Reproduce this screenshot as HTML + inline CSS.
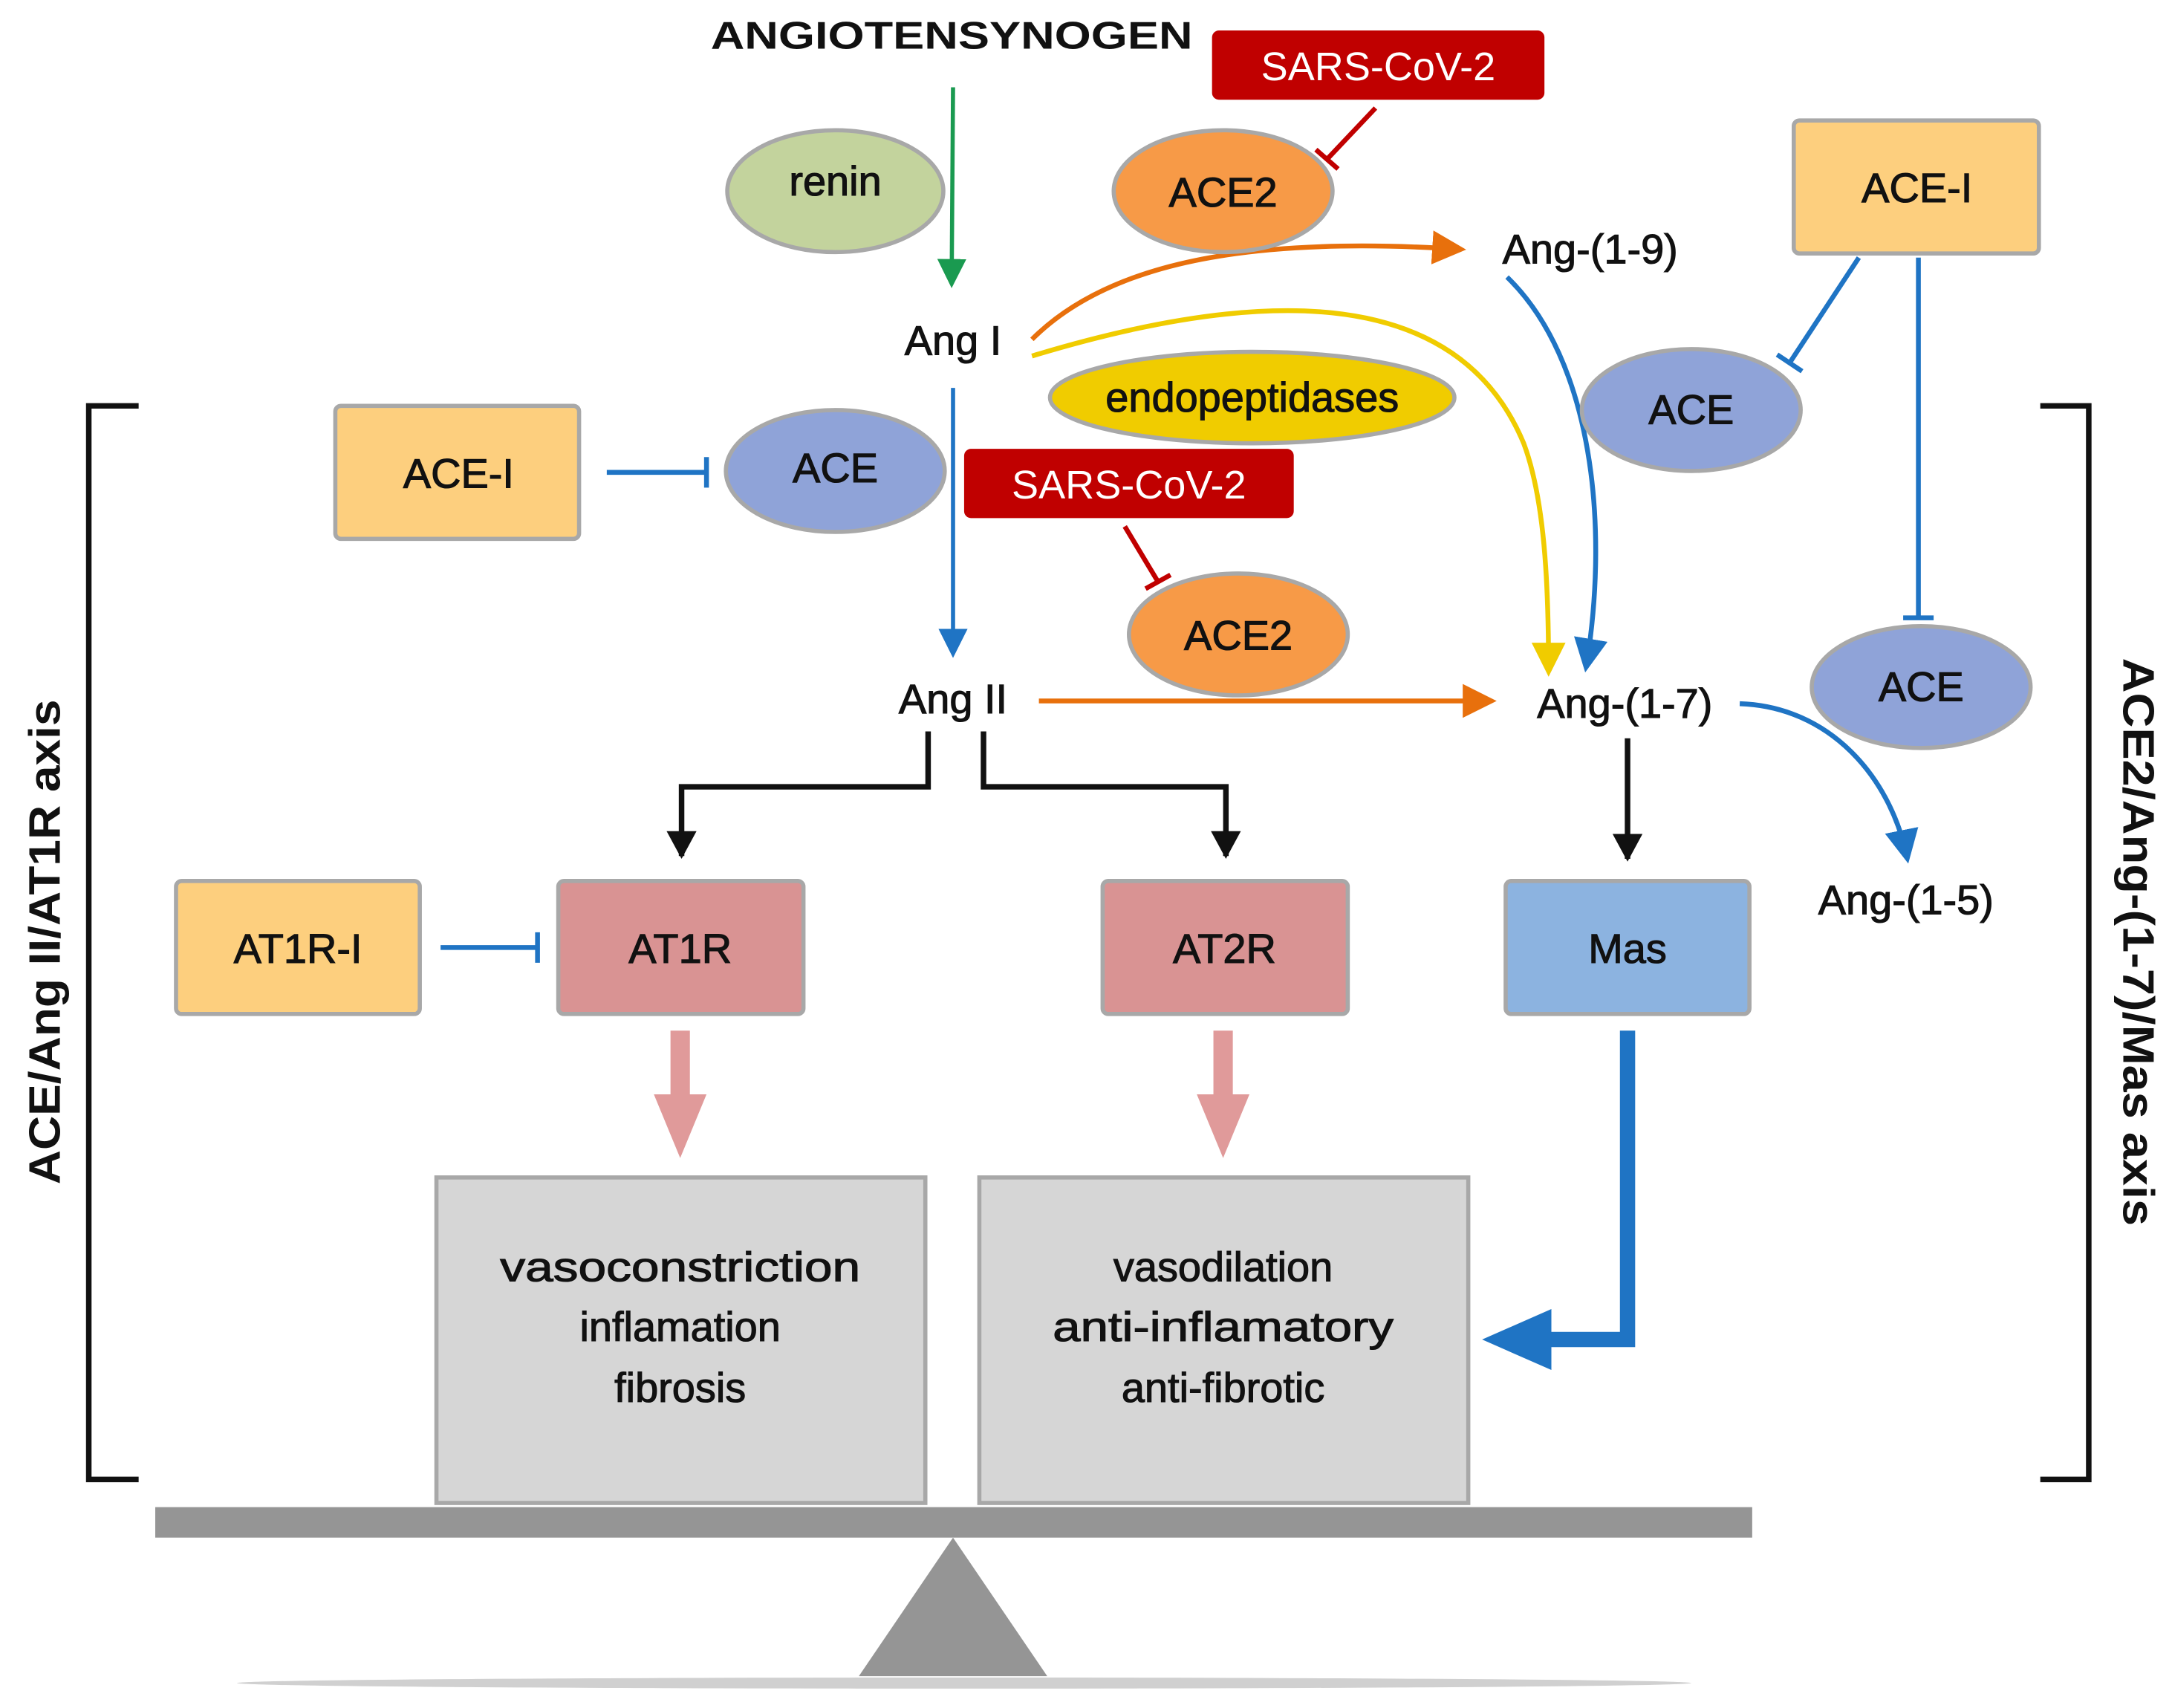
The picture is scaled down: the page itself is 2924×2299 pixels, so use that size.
<!DOCTYPE html>
<html><head><meta charset="utf-8"><style>html,body{margin:0;padding:0;background:#fff}svg{display:block}</style></head>
<body>
<svg width="2924" height="2299" viewBox="0 0 1568 1233" xmlns="http://www.w3.org/2000/svg" font-family="Liberation Sans, sans-serif">
<defs>
<marker id="ag" markerWidth="8" markerHeight="8" refX="6" refY="4" orient="auto" markerUnits="strokeWidth"><path d="M0,0.5 L7,4 L0,7.5z" fill="#1a9a50"/></marker>
<marker id="ab" markerWidth="8" markerHeight="8" refX="6" refY="4" orient="auto" markerUnits="strokeWidth"><path d="M0,0.5 L7,4 L0,7.5z" fill="#1f74c4"/></marker>
<marker id="ao" markerWidth="8" markerHeight="8" refX="6" refY="4" orient="auto" markerUnits="strokeWidth"><path d="M0,0.5 L7,4 L0,7.5z" fill="#e8700c"/></marker>
<marker id="ay" markerWidth="8" markerHeight="8" refX="6" refY="4" orient="auto" markerUnits="strokeWidth"><path d="M0,0.5 L7,4 L0,7.5z" fill="#f0cc00"/></marker>
<marker id="ak" markerWidth="6" markerHeight="6" refX="4.5" refY="3" orient="auto" markerUnits="strokeWidth"><path d="M0,0.3 L5,3 L0,5.7z" fill="#111"/></marker>
</defs>
<text x="513" y="35" font-size="28" font-weight="bold" fill="#111" textLength="348" lengthAdjust="spacingAndGlyphs">ANGIOTENSYNOGEN</text>
<!-- brackets -->
<path d="M100,293 H64 V1068 H100" fill="none" stroke="#111" stroke-width="4"/>
<path d="M1473,293 H1508 V1068 H1473" fill="none" stroke="#111" stroke-width="4"/>
<text transform="translate(43,680) rotate(-90)" font-size="32" font-weight="bold" text-anchor="middle" fill="#111" textLength="350" lengthAdjust="spacingAndGlyphs">ACE/Ang II/AT1R axis</text>
<text transform="translate(1533,680) rotate(90)" font-size="32" font-weight="bold" text-anchor="middle" fill="#111" textLength="410" lengthAdjust="spacingAndGlyphs">ACE2/Ang-(1-7)/Mas axis</text>

<!-- connectors -->
<line x1="688" y1="63" x2="687" y2="205" stroke="#1a9a50" stroke-width="3" marker-end="url(#ag)"/>
<line x1="688" y1="280" x2="688" y2="472" stroke="#1f74c4" stroke-width="3" marker-end="url(#ab)"/>
<path d="M745,245 C800,190 900,170 1055,180" fill="none" stroke="#e8700c" stroke-width="3.5" marker-end="url(#ao)"/>
<path d="M745,257 C900,210 1050,200 1100,320 C1115,360 1118,420 1118,485" fill="none" stroke="#f0cc00" stroke-width="3.5" marker-end="url(#ay)"/>
<path d="M1088,200 C1150,260 1162,380 1145,482" fill="none" stroke="#1f74c4" stroke-width="3.5" marker-end="url(#ab)"/>
<line x1="750" y1="506" x2="1077" y2="506" stroke="#e8700c" stroke-width="3.5" marker-end="url(#ao)"/>
<path d="M1256,508 C1320,510 1365,560 1377,620" fill="none" stroke="#1f74c4" stroke-width="3.5" marker-end="url(#ab)"/>
<line x1="1175" y1="533" x2="1175" y2="620" stroke="#111" stroke-width="4" marker-end="url(#ak)"/>
<path d="M670,528 V568 H492 V618" fill="none" stroke="#111" stroke-width="4" marker-end="url(#ak)"/>
<path d="M710,528 V568 H885 V618" fill="none" stroke="#111" stroke-width="4" marker-end="url(#ak)"/>
<!-- inhibitors -->
<path d="M438,341 H510 M510,330 V352" stroke="#1f74c4" stroke-width="3.5" fill="none"/>
<path d="M318,684 H388 M388,673 V695" stroke="#1f74c4" stroke-width="3.5" fill="none"/>
<path d="M1342,186 L1292,262 M1283,256 L1301,268" stroke="#1f74c4" stroke-width="3.5" fill="none"/>
<path d="M1385,186 V446 M1374,446 H1396" stroke="#1f74c4" stroke-width="3.5" fill="none"/>
<path d="M993,78 L958,115 M950,108 L966,122" stroke="#c00000" stroke-width="3.5" fill="none"/>
<path d="M812,380 L836,420 M827,425 L845,415" stroke="#c00000" stroke-width="3.5" fill="none"/>
<!-- pink arrows -->
<path d="M484,744 H498 V790 H510 L491,836 L472,790 H484z" fill="#e09a9a"/>
<path d="M876,744 H890 V790 H902 L883,836 L864,790 H876z" fill="#e09a9a"/>
<!-- big blue arrow -->
<path d="M1175,744 V967 H1110" fill="none" stroke="#1f74c4" stroke-width="11"/>
<path d="M1070,967 L1120,945 L1120,989z" fill="#1f74c4"/>

<!-- nodes -->
<g stroke="#a8a8a8" stroke-width="3">
<ellipse cx="603" cy="138" rx="78" ry="44" fill="#c3d39d"/>
<ellipse cx="883" cy="138" rx="79" ry="44" fill="#f79a47"/>
<ellipse cx="904" cy="287" rx="146" ry="33" fill="#f0cc00"/>
<ellipse cx="603" cy="340" rx="79" ry="44" fill="#8fa3d8"/>
<ellipse cx="894" cy="458" rx="79" ry="44" fill="#f79a47"/>
<ellipse cx="1221" cy="296" rx="79" ry="44" fill="#8fa3d8"/>
<ellipse cx="1387" cy="496" rx="79" ry="44" fill="#8fa3d8"/>
<rect x="242" y="293" width="176" height="96" rx="4" fill="#fdcf7e"/>
<rect x="1295" y="87" width="177" height="96" rx="4" fill="#fdcf7e"/>
<rect x="127" y="636" width="176" height="96" rx="4" fill="#fdcf7e"/>
<rect x="403" y="636" width="177" height="96" rx="4" fill="#d99393"/>
<rect x="796" y="636" width="177" height="96" rx="4" fill="#d99393"/>
<rect x="1087" y="636" width="176" height="96" rx="4" fill="#8cb3e0"/>
<rect x="315" y="850" width="353" height="235" fill="#d6d6d6"/>
<rect x="707" y="850" width="353" height="235" fill="#d6d6d6"/>
</g>
<rect x="875" y="22" width="240" height="50" rx="5" fill="#c00000"/>
<rect x="696" y="324" width="238" height="50" rx="5" fill="#c00000"/>
<text x="995" y="58" font-size="29" fill="#fff" text-anchor="middle">SARS-CoV-2</text>
<text x="815" y="360" font-size="29" fill="#fff" text-anchor="middle">SARS-CoV-2</text>

<!-- balance -->
<rect x="112" y="1088" width="1153" height="22" fill="#959595"/>
<path d="M688,1110 L756,1210 L620,1210z" fill="#959595"/>
<ellipse cx="696" cy="1215" rx="525" ry="4" fill="#d0d0d0"/>

<g font-size="30" fill="#111" stroke="#111" stroke-width="0.6" text-anchor="middle">
<text x="603" y="141">renin</text>
<text x="883" y="149">ACE2</text>
<text x="904" y="297">endopeptidases</text>
<text x="603" y="348">ACE</text>
<text x="894" y="469">ACE2</text>
<text x="1221" y="306">ACE</text>
<text x="1387" y="506">ACE</text>
<text x="331" y="352">ACE-I</text>
<text x="1384" y="146">ACE-I</text>
<text x="215" y="695">AT1R-I</text>
<text x="491" y="695">AT1R</text>
<text x="884" y="695">AT2R</text>
<text x="1175" y="695">Mas</text>
<text x="688" y="256">Ang I</text>
<text x="688" y="515">Ang II</text>
<text x="1148" y="190">Ang-(1-9)</text>
<text x="1173" y="518">Ang-(1-7)</text>
<text x="1376" y="660">Ang-(1-5)</text>
<text x="491" y="925" textLength="260" lengthAdjust="spacingAndGlyphs">vasoconstriction</text>
<text x="491" y="968">inflamation</text>
<text x="491" y="1012">fibrosis</text>
<text x="883" y="925">vasodilation</text>
<text x="883" y="968" textLength="246" lengthAdjust="spacingAndGlyphs">anti-inflamatory</text>
<text x="883" y="1012">anti-fibrotic</text>
</g>
</svg>
</body></html>
